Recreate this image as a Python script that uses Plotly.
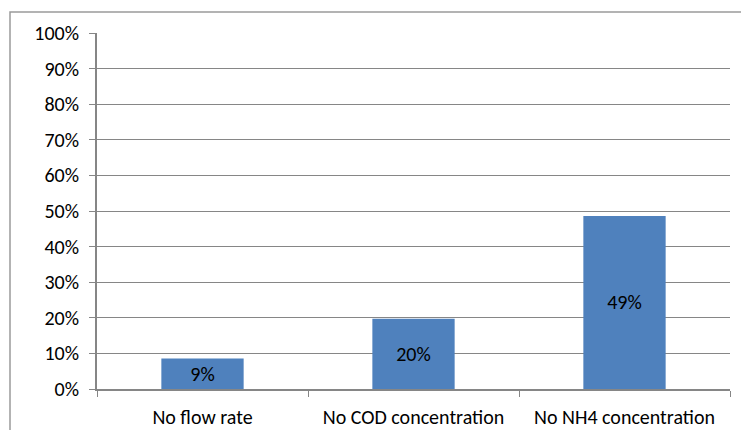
import plotly.graph_objects as go

# Share of cases per scenario
categories = ["No flow rate", "No COD concentration", "No NH4 concentration"]
shares = [0.086, 0.197, 0.486]
y_ticks = [0, 0.1, 0.2, 0.3, 0.4, 0.5, 0.6, 0.7, 0.8, 0.9, 1.0]

FONT = "Carlito, Calibri, Lato, sans-serif"
GRID = "#868686"

fig = go.Figure(
    go.Bar(
        x=categories,
        y=shares,
        width=0.39,
        marker=dict(color="#4f81bd", line=dict(width=0)),
        texttemplate="%{y:.0%}",
        textposition="inside",
        insidetextanchor="middle",
        textfont=dict(family=FONT, size=20, color="black"),
        textangle=0,
    )
)

fig.update_layout(
    width=741,
    height=430,
    margin=dict(l=97, r=11, t=33, b=41),
    paper_bgcolor="white",
    plot_bgcolor="white",
    showlegend=False,
    font=dict(family=FONT, size=20, color="black"),
    uniformtext=dict(mode=False),
)

fig.update_yaxes(
    range=[0, 1],
    tickvals=y_ticks,
    tickformat=".0%",
    showgrid=True,
    gridcolor=GRID,
    gridwidth=1,
    showline=True,
    linecolor=GRID,
    linewidth=2,
    ticks="outside",
    ticklen=6,
    tickcolor=GRID,
    tickwidth=1,
    ticklabelstandoff=6,
    zeroline=False,
    automargin=False,
    fixedrange=True,
)

fig.update_xaxes(
    showgrid=False,
    showline=True,
    linecolor=GRID,
    linewidth=2,
    ticks="outside",
    tickson="boundaries",
    ticklen=6,
    tickcolor=GRID,
    tickwidth=1,
    ticklabelstandoff=9,
    automargin=False,
    fixedrange=True,
)

# Chart-area frame
fig.add_shape(
    type="rect",
    xref="paper",
    yref="paper",
    x0=(10 - 97) / 633,
    x1=2,
    y0=-1,
    y1=(389 - 12) / 356,
    line=dict(color="#9a9a9a", width=1.5),
    layer="below",
)

fig.write_html("out.html")
